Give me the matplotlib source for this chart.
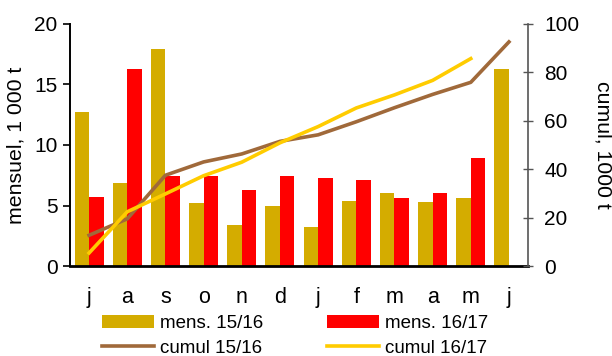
import matplotlib.pyplot as plt
import numpy as np

plt.rcParams['font.family'] = ['Liberation Sans', 'DejaVu Sans']

# Mois de la campagne (juillet -> juin)
mois = ['j', 'a', 's', 'o', 'n', 'd', 'j', 'f', 'm', 'a', 'm', 'j']

# Volumes mensuels, 1 000 t
mens_1516 = [12.7, 6.9, 17.9, 5.2, 3.4, 5.0, 3.2, 5.4, 6.0, 5.3, 5.6, 16.3]
mens_1617 = [5.7, 16.3, 7.4, 7.4, 6.3, 7.4, 7.3, 7.1, 5.6, 6.0, 8.9, None]

# Cumuls, 1 000 t
cumul_1516 = [12.7, 19.5, 37.5, 43.0, 46.3, 51.5, 54.2, 59.6, 65.4, 70.9, 75.9, 92.6]
cumul_1617 = [5.4, 22.4, 29.8, 37.3, 42.9, 50.9, 57.6, 65.3, 70.7, 76.7, 85.7]

c_or = '#D4AC00'
c_rouge = '#FF0000'
c_brun = '#A0693A'
c_jaune = '#FFCC00'

fig = plt.figure(figsize=(6.12, 3.56), dpi=100)
ax1 = fig.add_axes([0.1144, 0.2528, 0.7484, 0.6798])
ax2 = ax1.twinx()

x = np.arange(len(mois))
larg = 0.38
h1 = ax1.bar(x - larg / 2, mens_1516, larg, color=c_or, label='mens. 15/16')
x_r = [i for i, v in zip(x, mens_1617) if v is not None]
v_r = [v for v in mens_1617 if v is not None]
h2 = ax1.bar(np.array(x_r) + larg / 2, v_r, larg, color=c_rouge, label='mens. 16/17')

l1, = ax2.plot(x, cumul_1516, color=c_brun, lw=2.6, label='cumul 15/16')
l2, = ax2.plot(x[:len(cumul_1617)], cumul_1617, color=c_jaune, lw=2.6, label='cumul 16/17')

ax1.set_xlim(-0.5, 11.5)
ax1.set_ylim(0, 20)
ax1.set_yticks([0, 5, 10, 15, 20])
ax2.set_ylim(0, 100)
ax2.set_yticks([0, 20, 40, 60, 80, 100])

ax1.set_xticks(x)
ax1.set_xticklabels(mois)
ax1.tick_params(axis='x', length=0, labelsize=15.5, pad=15)
ax1.tick_params(axis='y', labelsize=15, direction='out', length=5, width=1.2, pad=4)
ax2.tick_params(axis='y', labelsize=15, direction='inout', length=7, width=1.0,
                color='#555555', pad=8)

for ax in (ax1, ax2):
    ax.spines['top'].set_visible(False)
ax1.spines['right'].set_visible(False)
ax2.spines['left'].set_visible(False)
ax2.spines['bottom'].set_visible(False)
ax1.spines['left'].set_linewidth(1.4)
ax1.spines['bottom'].set_linewidth(2.0)
ax2.spines['right'].set_color('#555555')
ax2.spines['right'].set_linewidth(1.2)

ax1.set_ylabel('mensuel, 1 000 t', fontsize=15.3, labelpad=6)
ax2.set_ylabel('cumul, 1000 t', fontsize=15.3, rotation=-90, labelpad=24)

fig.legend([h1, l1, h2, l2],
           ['mens. 15/16', 'cumul 15/16', 'mens. 16/17', 'cumul 16/17'],
           ncol=2, loc='upper left', bbox_to_anchor=(0.166, 0.115),
           frameon=False, fontsize=13.5, handlelength=2.8, handleheight=0.68,
           handletextpad=0.3, columnspacing=3.4, labelspacing=0.4,
           borderpad=0, borderaxespad=0)

fig.savefig('out.png', dpi=100)
